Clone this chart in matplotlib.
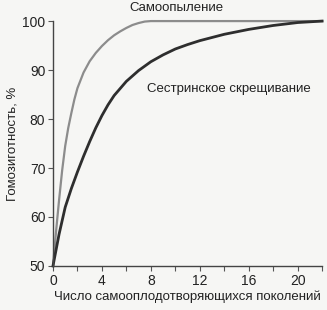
import matplotlib
matplotlib.use("Agg")
import matplotlib.pyplot as plt

# generations and homozygosity (%)
self_gen = [0, 0.25, 0.5, 0.75, 1, 1.25, 1.5, 1.75, 2, 2.5, 3, 3.5, 4, 4.5, 5, 5.5, 6, 6.5, 7, 7.5, 8, 10, 14, 18, 22]
self_hom = [50, 57, 63.5, 69.5, 74.5, 78.2, 81.2, 84, 86.3, 89.5, 91.8, 93.5, 94.9, 96.1, 97.1, 97.9, 98.6, 99.2, 99.6, 99.9, 100, 100, 100, 100, 100]

sib_gen = [0, 0.5, 1, 1.5, 2, 2.5, 3, 3.5, 4, 4.5, 5, 6, 7, 8, 9, 10, 11, 12, 14, 16, 18, 20, 22]
sib_hom = [50, 56.5, 62, 65.8, 69.2, 72.4, 75.4, 78.2, 80.7, 82.9, 84.8, 87.7, 89.9, 91.7, 93.1, 94.3, 95.2, 96, 97.3, 98.3, 99.1, 99.7, 100]

xticks = list(range(0, 23, 2))
xlabels = [str(t) if t % 4 == 0 else "" for t in xticks]
yticks = [50, 60, 70, 80, 90, 100]

plt.rcParams['font.family'] = ['Liberation Sans', 'DejaVu Sans']
bg = '#f6f6f4'
fig = plt.figure(figsize=(3.27, 3.10), dpi=100, facecolor=bg)
ax = fig.add_axes([0.162, 0.142, 0.823, 0.79], facecolor=bg)

ax.plot(self_gen, self_hom, color='#8c8c8c', lw=1.6, clip_on=False)
ax.plot(sib_gen, sib_hom, color='#2e2e2e', lw=2.0, clip_on=False)

ax.set_xlim(0, 22)
ax.set_ylim(50, 100)
ax.set_xticks(xticks)
ax.set_xticklabels(xlabels)
ax.set_yticks(yticks)
ax.spines['top'].set_visible(False)
ax.spines['right'].set_visible(False)
for s in ['left', 'bottom']:
    ax.spines[s].set_color('#444444')
    ax.spines[s].set_linewidth(1.0)
ax.tick_params(direction='out', length=3.5, width=0.8, color='#555555',
               labelsize=10, labelcolor='#222222', pad=2)

ax.text(10.1, 102.6, 'Самоопыление', ha='center', va='center', fontsize=9.5, color='#222222')
ax.text(14.4, 86.2, 'Сестринское скрещивание', ha='center', va='center', fontsize=9.5, color='#222222')

ax.set_ylabel('Гомозиготность, %', fontsize=9.5, color='#222222', labelpad=3)
ax.set_xlabel('Число самооплодотворяющихся поколений', fontsize=9.5, color='#222222', labelpad=2)

fig.savefig('out.png', dpi=100, facecolor=bg)
